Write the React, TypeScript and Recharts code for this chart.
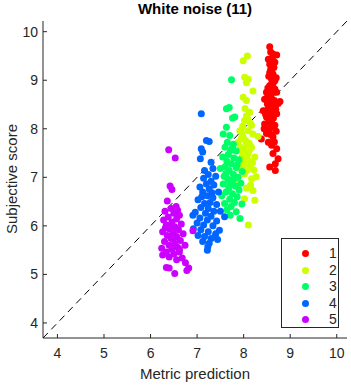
import { Legend, ReferenceLine, Scatter, ScatterChart, XAxis, YAxis } from "recharts";

const AXIS_MIN = 3.69;
const AXIS_MAX = 10.22;
const TICKS = [4, 5, 6, 7, 8, 9, 10];
const TITLE = "White noise (11)";
const X_LABEL = "Metric prediction";
const Y_LABEL = "Subjective score";
const GROUP_NAMES = ["1", "2", "3", "4", "5"];
const GROUP_COLORS = ["#ff0000", "#ccff00", "#00ff66", "#0066ff", "#cc00ff"];

const group1: [number, number][] = [
  [8.56, 9.69], [8.63, 9.54], [8.71, 9.52], [8.53, 9.43], [8.6, 9.4], [8.67, 9.37], [8.56, 9.33], [8.62, 9.47],
  [8.58, 9.58], [8.56, 9.16], [8.63, 9.13], [8.6, 9.02], [8.67, 8.99], [8.54, 9.08], [8.56, 8.89], [8.67, 8.82],
  [8.49, 8.75], [8.6, 8.72], [8.71, 8.75], [8.63, 8.93], [8.78, 8.56], [8.45, 8.61], [8.56, 8.54], [8.67, 8.48],
  [8.53, 8.41], [8.63, 8.34], [8.42, 8.37], [8.71, 8.31], [8.49, 8.24], [8.6, 8.17], [8.45, 8.1], [8.67, 8.07],
  [8.56, 8.0], [8.49, 7.9], [8.38, 7.79], [8.63, 7.83], [8.53, 7.72], [8.6, 7.66], [8.71, 7.59], [8.63, 7.49],
  [8.74, 7.38], [8.56, 7.21], [8.68, 7.14], [8.59, 8.64], [8.52, 8.68], [8.66, 8.58], [8.58, 8.45], [8.51, 8.51],
  [8.69, 8.4], [8.57, 8.28], [8.64, 8.22], [8.53, 8.13], [8.61, 8.04], [8.7, 7.95], [8.58, 7.88], [8.66, 7.73],
  [8.47, 8.3], [8.74, 8.52], [8.62, 8.8], [8.52, 8.84], [8.7, 9.05], [8.65, 9.26], [8.58, 9.22], [8.44, 8.0],
  [8.68, 7.28],
];

const group2: [number, number][] = [
  [8.08, 9.5], [7.99, 9.4], [8.02, 9.06], [8.1, 9.02], [8.06, 8.95], [8.2, 8.78], [7.99, 8.65], [8.06, 8.58],
  [8.13, 8.34], [8.06, 8.27], [8.02, 8.17], [8.17, 8.07], [7.92, 7.96], [8.1, 7.96], [8.2, 7.89], [7.99, 7.83],
  [8.31, 7.84], [7.88, 7.72], [8.06, 7.69], [8.17, 7.62], [7.99, 7.52], [8.24, 7.42], [8.1, 7.35], [7.95, 7.31],
  [8.13, 7.21], [8.27, 7.01], [8.02, 7.07], [8.17, 6.97], [8.2, 6.73], [8.24, 6.53], [8.02, 6.56], [8.1, 6.02],
  [7.88, 6.87], [7.95, 7.8], [8.04, 7.76], [8.12, 7.7], [7.93, 7.62], [8.02, 7.58], [8.09, 7.48], [7.97, 7.44],
  [8.05, 7.4], [8.19, 7.3], [8.0, 7.26], [8.08, 7.15], [7.96, 7.92], [8.14, 8.12], [7.98, 8.05], [8.09, 8.2],
  [8.03, 8.42], [8.12, 7.55], [8.22, 7.15], [7.92, 7.18], [8.15, 6.84], [8.06, 6.78],
];

const group3: [number, number][] = [
  [7.74, 9.01], [7.63, 8.41], [7.69, 8.44], [7.81, 8.24], [7.76, 8.22], [7.63, 8.03], [7.56, 7.89], [7.7, 7.86],
  [7.65, 7.72], [7.78, 7.68], [7.6, 7.62], [7.72, 7.56], [7.84, 7.54], [7.67, 7.47], [7.55, 7.42], [7.79, 7.4],
  [7.9, 7.36], [7.64, 7.33], [7.73, 7.28], [7.5, 7.18], [7.6, 7.22], [7.84, 7.2], [7.97, 7.12], [7.69, 7.14],
  [7.78, 7.06], [7.58, 7.02], [7.88, 7.0], [7.66, 6.96], [7.75, 6.92], [7.94, 6.88], [7.56, 6.86], [7.82, 6.82],
  [7.68, 6.78], [7.9, 6.74], [7.62, 6.7], [7.76, 6.66], [7.53, 6.62], [7.86, 6.6], [7.7, 6.55], [7.8, 6.48],
  [7.59, 6.46], [7.96, 6.45], [7.73, 6.4], [7.84, 6.29], [7.64, 6.33], [7.92, 6.15], [7.71, 6.22], [7.86, 7.26],
  [7.62, 7.08], [7.76, 7.62], [7.7, 6.86], [7.8, 6.98],
];

const group4: [number, number][] = [
  [7.09, 8.31], [7.2, 7.76], [7.26, 7.74], [7.09, 7.59], [7.12, 7.52], [7.07, 7.38], [7.3, 7.31], [7.16, 7.14],
  [7.34, 7.18], [7.24, 7.06], [7.4, 7.02], [7.14, 6.98], [7.3, 6.92], [7.2, 6.86], [7.06, 6.8], [7.36, 6.84],
  [7.26, 6.76], [7.46, 6.7], [7.12, 6.7], [7.22, 6.62], [7.34, 6.58], [7.02, 6.54], [7.28, 6.48], [7.16, 6.46],
  [7.42, 6.44], [7.08, 6.38], [7.24, 6.36], [7.36, 6.3], [6.96, 6.28], [7.18, 6.26], [7.5, 6.3], [7.3, 6.2],
  [7.59, 6.19], [6.91, 6.22], [7.06, 6.16], [7.22, 6.12], [7.42, 6.1], [7.0, 6.06], [7.14, 6.02], [7.34, 6.0],
  [7.48, 5.91], [6.92, 5.94], [7.08, 5.92], [7.24, 5.88], [7.4, 5.84], [7.02, 5.8], [7.16, 5.78], [7.3, 5.74],
  [7.44, 5.72], [7.12, 5.68], [7.26, 5.64], [7.23, 5.57], [7.22, 5.5], [7.38, 5.78], [7.1, 6.6], [7.32, 6.68],
];

const group5: [number, number][] = [
  [6.39, 7.57], [6.53, 7.4], [6.42, 6.82], [6.46, 6.75], [6.36, 6.51], [6.55, 6.4], [6.44, 6.36], [6.31, 6.3],
  [6.5, 6.26], [6.62, 6.22], [6.38, 6.18], [6.56, 6.14], [6.28, 6.12], [6.46, 6.08], [6.66, 6.04], [6.34, 6.02],
  [6.52, 5.98], [6.4, 5.94], [6.6, 5.92], [6.91, 5.9], [6.26, 5.88], [6.48, 5.86], [6.7, 5.84], [6.36, 5.8],
  [6.56, 5.78], [6.44, 5.74], [6.64, 5.7], [6.3, 5.68], [6.52, 5.64], [6.4, 5.6], [6.74, 5.6], [6.58, 5.56],
  [6.24, 5.54], [6.46, 5.52], [6.34, 5.46], [6.62, 5.46], [6.5, 5.42], [6.26, 5.4], [6.4, 5.36], [6.68, 5.34],
  [6.56, 5.3], [6.75, 5.24], [6.34, 5.14], [6.4, 5.13], [6.82, 5.13], [6.78, 5.08], [6.52, 5.02], [6.44, 6.0],
  [6.58, 6.32], [6.32, 5.96], [6.5, 5.76], [6.62, 5.52],
];

const GROUPS = [group1, group2, group3, group4, group5];

const FONT = '"Liberation Sans", Arial, sans-serif';
const INK = "#262626";

function Dot(props: any) {
  return <circle cx={props.cx} cy={props.cy} r={3.5} fill={props.fill} stroke="none" />;
}

function LegendBox() {
  return (
    <div
      style={{
        width: 58,
        height: 90,
        boxSizing: "border-box",
        border: `1px solid ${INK}`,
        background: "#fff",
        fontFamily: FONT,
        fontSize: 14,
        color: INK,
        position: "relative",
      }}
    >
      {GROUP_NAMES.map((name, i) => (
        <div
          key={name}
          style={{ position: "absolute", left: 0, top: 6 + i * 16.5, width: 58, height: 17 }}
        >
          <span
            style={{
              position: "absolute",
              left: 20,
              top: 5,
              width: 7,
              height: 7,
              borderRadius: "50%",
              background: GROUP_COLORS[i],
            }}
          />
          <span style={{ position: "absolute", left: 47, top: 0, lineHeight: "17px" }}>{name}</span>
        </div>
      ))}
    </div>
  );
}

export default function App() {
  const tickStyle = { fontSize: 14, fill: INK, fontFamily: FONT };
  return (
    <div style={{ position: "absolute", left: 0, top: 0, width: 351, height: 385, background: "#fff" }}>
      <ScatterChart width={351} height={385} margin={{ top: 21, right: 4, bottom: 17, left: 8 }}>
        <XAxis
          type="number"
          dataKey="x"
          domain={[AXIS_MIN, AXIS_MAX]}
          ticks={TICKS}
          allowDataOverflow
          height={30}
          tick={tickStyle}
          tickSize={-4}
          tickMargin={14}
          stroke={INK}
        />
        <XAxis
          xAxisId="top"
          orientation="top"
          type="number"
          domain={[AXIS_MIN, AXIS_MAX]}
          ticks={TICKS}
          allowDataOverflow
          height={0}
          tick={false}
          tickSize={-4}
          stroke={INK}
        />
        <YAxis
          type="number"
          dataKey="y"
          domain={[AXIS_MIN, AXIS_MAX]}
          ticks={TICKS}
          allowDataOverflow
          width={35}
          tick={tickStyle}
          tickSize={-4}
          tickMargin={9}
          stroke={INK}
        />
        <YAxis
          yAxisId="right"
          orientation="right"
          type="number"
          domain={[AXIS_MIN, AXIS_MAX]}
          ticks={TICKS}
          allowDataOverflow
          width={0}
          tick={false}
          tickSize={-4}
          stroke={INK}
        />
        {GROUPS.map((g, i) => (
          <Scatter
            key={GROUP_NAMES[i]}
            name={GROUP_NAMES[i]}
            data={g.map(([x, y]) => ({ x, y }))}
            fill={GROUP_COLORS[i]}
            shape={Dot}
            isAnimationActive={false}
          />
        ))}
        <ReferenceLine
          segment={[
            { x: AXIS_MIN, y: AXIS_MIN },
            { x: AXIS_MAX, y: AXIS_MAX },
          ]}
          stroke="#000"
          strokeDasharray="7 5"
          strokeWidth={1}
        />
        <Legend
          layout="vertical"
          align="center"
          verticalAlign="middle"
          content={() => <LegendBox />}
          wrapperStyle={{ left: 281, top: 238, width: 58, height: 90 }}
        />
      </ScatterChart>
      <div
        style={{
          position: "absolute",
          left: 43,
          width: 304,
          top: 0,
          textAlign: "center",
          fontFamily: FONT,
          fontWeight: "bold",
          fontSize: 15,
          lineHeight: "18px",
          color: "#000",
        }}
      >
        {TITLE}
      </div>
      <div
        style={{
          position: "absolute",
          left: 43,
          width: 304,
          top: 365,
          textAlign: "center",
          fontFamily: FONT,
          fontSize: 15,
          lineHeight: "18px",
          color: INK,
        }}
      >
        {X_LABEL}
      </div>
      <div
        style={{
          position: "absolute",
          left: 12,
          top: 179,
          transform: "translate(-50%, -50%) rotate(-90deg)",
          whiteSpace: "nowrap",
          fontFamily: FONT,
          fontSize: 15,
          lineHeight: "18px",
          color: INK,
        }}
      >
        {Y_LABEL}
      </div>
    </div>
  );
}
